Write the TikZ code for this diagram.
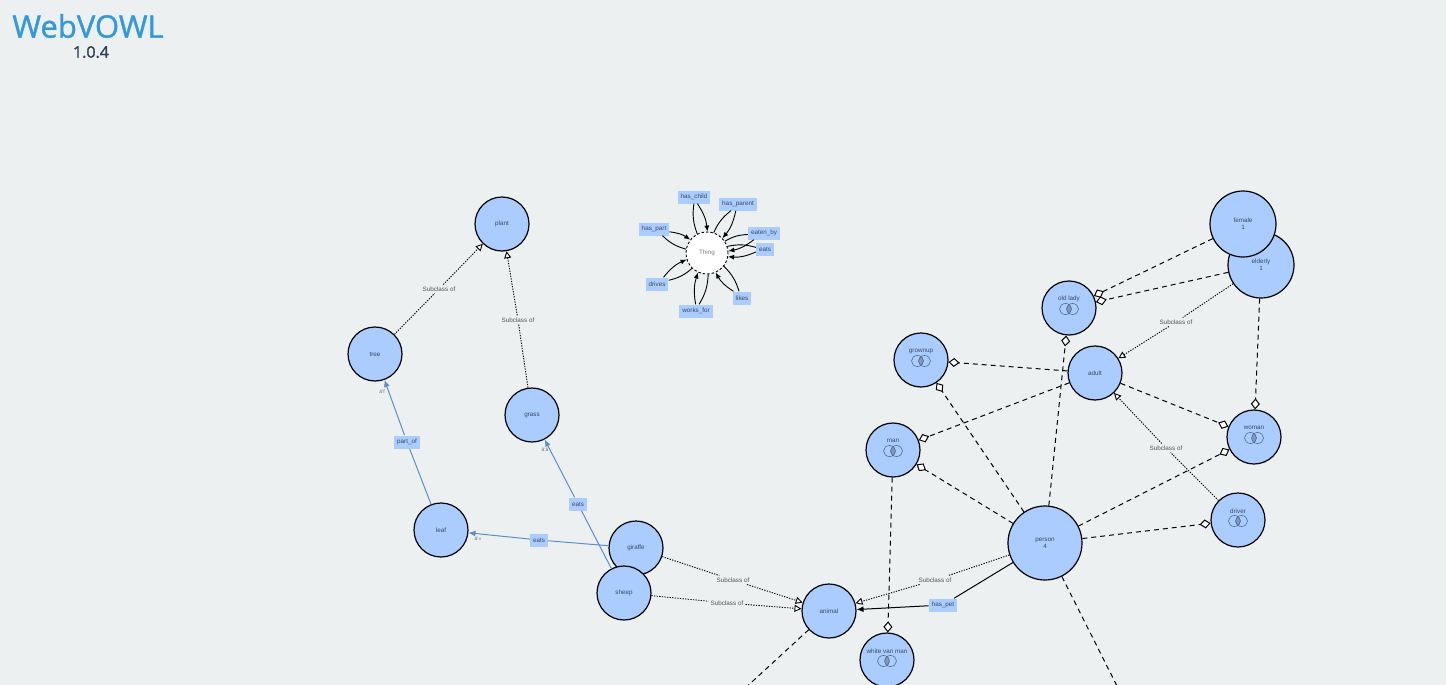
\documentclass[tikz,border=0pt]{standalone}
\usepackage{fontspec}
\setmainfont{Liberation Sans}
\newfontfamily\titlefont[FakeBold=1.2]{Open Sans}
\usetikzlibrary{arrows.meta}
\definecolor{bgc}{HTML}{ECF0F1}
\definecolor{nodec}{HTML}{AACCFF}
\definecolor{propc}{HTML}{AACCFF}
\definecolor{txtc}{HTML}{3A4A66}
\definecolor{subc}{HTML}{555555}
\definecolor{objc}{HTML}{5B8FC9}
\definecolor{iconc}{HTML}{4D6A99}
\definecolor{titlec}{HTML}{3498DB}
\definecolor{verc}{HTML}{2C3E50}
\tikzset{
  inter/.pic={
    \fill[iconc!70] (0,0) circle[x radius=2.5pt, y radius=4.6pt];
    \draw[iconc, line width=0.6pt] (-3.5,0) circle[x radius=6pt, y radius=5.5pt];
    \draw[iconc, line width=0.6pt] (3.5,0) circle[x radius=6pt, y radius=5.5pt];
  }
}
\begin{document}
\begin{tikzpicture}[
  x=1pt, y=-1pt,
  lblfont/.style = {font=\fontsize{6.3}{7.2}\selectfont},
  cls/.style     = {circle, draw=black, line width=1.2pt, fill=nodec, minimum size=54,
                    inner sep=0pt, text=txtc, align=center, lblfont},
  bigcls/.style  = {cls, minimum size=66},
  perscls/.style = {cls, minimum size=74},
  opcls/.style   = {cls, label={[text=txtc, lblfont, yshift=9pt]center:#1}},
  thing/.style   = {circle, draw=black, dash pattern=on 2.5pt off 2pt, line width=0.9pt,
                    fill=white, minimum size=42, text=gray, lblfont},
  prop/.style    = {fill=propc, inner xsep=3pt, inner ysep=0pt, minimum height=13,
                    text=txtc, lblfont},
  subl/.style    = {text=subc, inner sep=2pt, lblfont},
  tiny/.style    = {text=gray!80!black, inner sep=0pt, font=\fontsize{5}{5}\selectfont},
  sub/.style     = {dash pattern=on 1.3pt off 1.3pt, line width=0.9pt},
  subarr/.style  = {sub, -{Triangle[open, fill=white, length=7pt, width=7pt]}},
  objarr/.style  = {objc, line width=1pt, -{Latex[length=7pt, width=6pt]}},
  objl/.style    = {objc, line width=1pt},
  setl/.style    = {dash pattern=on 5pt off 4pt, line width=1pt},
  setarr/.style  = {setl, -{Diamond[open, fill=white, length=11pt, width=9pt]}},
  loopl/.style   = {line width=0.9pt},
  looparr/.style = {loopl, -{Latex[length=6pt, width=5pt]}},
]
\fill[bgc] (0,0) rectangle (1446,685);
\useasboundingbox (0,0) rectangle (1446,685);
\clip (0,0) rectangle (1446,685);

%% title
\node[text=titlec, font=\titlefont\fontsize{31}{31}\selectfont] (title) at (88,26) {WebVOWL};
\node[text=verc, font=\titlefont\fontsize{16}{16}\selectfont] (version) at (91,52) {1.0.4};

%% classes
\node[cls]   (plant)   at (502,224) {plant};
\node[cls]   (tree)    at (375,354) {tree};
\node[cls]   (grass)   at (532,415) {grass};
\node[cls]   (leaf)    at (441,530) {leaf};
\node[cls]   (giraffe) at (636,548) {giraffe};
\node[cls]   (sheep)   at (624,593) {sheep};
\node[cls]   (animal)  at (829,611) {animal};
\node[bigcls] (elderly) at (1261,265) {elderly\\1};
\node[bigcls] (female)  at (1243,224) {female\\1};
\node[opcls=old lady]  (oldlady) at (1069,308) {};
\node[cls]   (adult)   at (1095,373) {adult};
\node[opcls=grownup]   (grownup) at (921,360) {};
\node[opcls=man]       (man)     at (893,450) {};
\node[opcls=woman]     (woman)   at (1254,437) {};
\node[opcls=driver]    (driver)  at (1238,520) {};
\node[perscls] (person) at (1045,543) {person\\4};
\node[opcls=white van man] (wvm) at (887,660) {};
\node[thing] (thing)   at (707,253) {Thing};

\foreach \n in {oldlady, grownup, man, woman, driver, wvm}
  \pic at ([yshift=-1pt]\n.center) {inter};

%% properties on Thing
\node[prop] (haschild)  at (694,197) {has\_child};
\node[prop] (hasparent) at (738,204) {has\_parent};
\node[prop] (haspart)   at (654,229) {has\_part};
\node[prop] (eatenby)   at (764,233) {eaten\_by};
\node[prop] (eatsth)    at (765,249) {eats};
\node[prop] (drives)    at (657,284) {drives};
\node[prop] (worksfor)  at (696,311) {works\_for};
\node[prop] (likes)     at (742,298) {likes};

\foreach \p in {haschild, hasparent, haspart, eatenby, eatsth, drives, worksfor, likes} {
  \draw[loopl]   (thing) to[bend left=14] (\p);
  \draw[looparr] (\p) to[bend left=14] (thing);
}

%% subclass labels
\node[subl] (sctree)    at (439,289) {Subclass of};
\node[subl] (scgrass)   at (518,320) {Subclass of};
\node[subl] (scgiraffe) at (733,580) {Subclass of};
\node[subl] (scsheep)   at (727,603) {Subclass of};
\node[subl] (scperson)  at (935,580) {Subclass of};
\node[subl] (scelderly) at (1176,322) {Subclass of};
\node[subl] (scdriver)  at (1166,448) {Subclass of};

\draw[sub] (tree) -- (sctree);       \draw[subarr] (sctree) -- (plant);
\draw[sub] (grass) -- (scgrass);     \draw[subarr] (scgrass) -- (plant);
\draw[sub] (giraffe) -- (scgiraffe); \draw[subarr] (scgiraffe) -- (animal);
\draw[sub] (sheep) -- (scsheep);     \draw[subarr] (scsheep) -- (animal);
\draw[sub] (person) -- (scperson);   \draw[subarr] (scperson) -- (animal);
\draw[sub] (elderly) -- (scelderly); \draw[subarr] (scelderly) -- (adult);
\draw[sub] (driver) -- (scdriver);   \draw[subarr] (scdriver) -- (adult);

%% object properties
\node[prop] (partof)    at (407,442) {part\_of};
\node[prop] (eatsgrass) at (578,504) {eats};
\node[prop] (eatsleaf)  at (539,540) {eats};
\node[prop] (haspet)    at (943,605) {has\_pet};

\draw[objl]   (leaf) -- (partof);
\draw[objarr] (partof) -- (tree);
\draw[objl]   (sheep) -- (eatsgrass);
\draw[objarr] (eatsgrass) -- (grass);
\draw[objl]   (giraffe) -- (eatsleaf);
\draw[objarr] (eatsleaf) -- (leaf);
\draw[line width=1pt] (person) -- (haspet);
\draw[line width=1pt, -{Latex[length=7pt, width=6pt]}] (haspet) -- (animal);

\node[tiny] (cardtree)  at (382,392) {ä`f};
\node[tiny] (cardgrass) at (545,450) {ä`ä};
\node[tiny] (cardleaf)  at (478,539) {ä`«};

%% set operator links
\coordinate (offperson) at (1120,692);
\coordinate (offanimal) at (741,692);
\draw[setarr] (female)  -- (oldlady);
\draw[setarr] (elderly) -- (oldlady);
\draw[setarr] (person)  -- (oldlady);
\draw[setarr] (elderly) -- (woman);
\draw[setarr] (adult)   -- (grownup);
\draw[setarr] (person)  -- (grownup);
\draw[setarr] (adult)   -- (man);
\draw[setarr] (person)  -- (man);
\draw[setarr] (adult)   -- (woman);
\draw[setarr] (person)  -- (woman);
\draw[setarr] (person)  -- (driver);
\draw[setarr] (man)     -- (wvm);
\draw[setl]   (person)  -- (offperson);
\draw[setl]   (animal)  -- (offanimal);
\end{tikzpicture}
\end{document}
